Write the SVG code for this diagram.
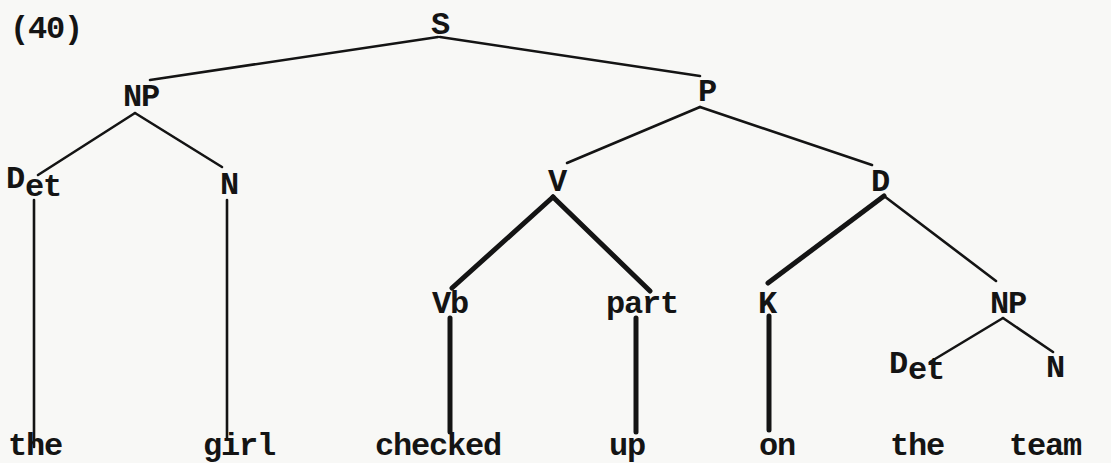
<svg xmlns="http://www.w3.org/2000/svg" width="1111" height="463" viewBox="0 0 1111 463">
  <style>
    .t { font-family: "Liberation Mono", "Courier New", monospace; font-weight: bold; font-size: 32px; letter-spacing: -1.2px; fill: #141414; }
    .m { text-anchor: middle; }
    .thin { stroke: #141414; stroke-width: 2.6; stroke-linecap: round; fill: none; }
    .thick { stroke: #141414; stroke-width: 5; stroke-linecap: round; fill: none; }
  </style>
  <rect width="1111" height="463" fill="#f8f8f6"/>

  <!-- example number -->
  <text class="t" x="10" y="38">(40)</text>

  <!-- tree branches -->
  <g id="connectors">
    <line class="thin" x1="438" y1="37" x2="150" y2="80"/>
    <line class="thin" x1="440" y1="37" x2="700" y2="76"/>
    <line class="thin" x1="135" y1="113" x2="38" y2="175"/>
    <line class="thin" x1="135" y1="113" x2="222" y2="167"/>
    <line class="thin" x1="700" y1="107" x2="567" y2="163"/>
    <line class="thin" x1="700" y1="107" x2="872" y2="165"/>
    <line class="thick" x1="553" y1="197" x2="452" y2="288"/>
    <line class="thick" x1="553" y1="197" x2="650" y2="291"/>
    <line class="thick" x1="884" y1="196" x2="768" y2="283"/>
    <line class="thin" x1="884" y1="196" x2="996" y2="281"/>
    <line class="thin" x1="1003" y1="318" x2="930" y2="362"/>
    <line class="thin" x1="1003" y1="318" x2="1053" y2="352"/>
    <line class="thin" x1="34" y1="200" x2="34" y2="447"/>
    <line class="thin" x1="227" y1="200" x2="227" y2="438"/>
    <line class="thick" x1="450" y1="318" x2="450" y2="432"/>
    <line class="thick" x1="636" y1="318" x2="636" y2="432"/>
    <line class="thick" x1="769" y1="316" x2="769" y2="430"/>
  </g>

  <g id="node-S"><text class="t m" x="440" y="34">S</text></g>
  <g id="node-NP1"><text class="t m" x="141" y="106">NP</text></g>
  <g id="node-P"><text class="t m" x="707" y="101">P</text></g>
  <g id="node-Det1"><text class="t" x="6" y="188">D<tspan x="25" y="196">et</tspan></text></g>
  <g id="node-N1"><text class="t m" x="229" y="194">N</text></g>
  <g id="node-V"><text class="t m" x="557" y="191">V</text></g>
  <g id="node-D"><text class="t m" x="880" y="191">D</text></g>
  <g id="node-Vb"><text class="t m" x="450" y="313">Vb</text></g>
  <g id="node-part"><text class="t m" x="642" y="313">part</text></g>
  <g id="node-K"><text class="t m" x="767" y="313">K</text></g>
  <g id="node-NP2"><text class="t m" x="1008" y="313">NP</text></g>
  <g id="node-Det2"><text class="t" x="889" y="373">D<tspan x="908" y="379">et</tspan></text></g>
  <g id="node-N2"><text class="t m" x="1055" y="377">N</text></g>

  <g id="words">
    <text class="t" x="8" y="455">the</text>
    <text class="t" x="203" y="455">girl</text>
    <text class="t" x="375" y="455">checked</text>
    <text class="t" x="609" y="455">up</text>
    <text class="t" x="759" y="455">on</text>
    <text class="t" x="890" y="455">the</text>
    <text class="t" x="1009" y="455">team</text>
  </g>
</svg>
